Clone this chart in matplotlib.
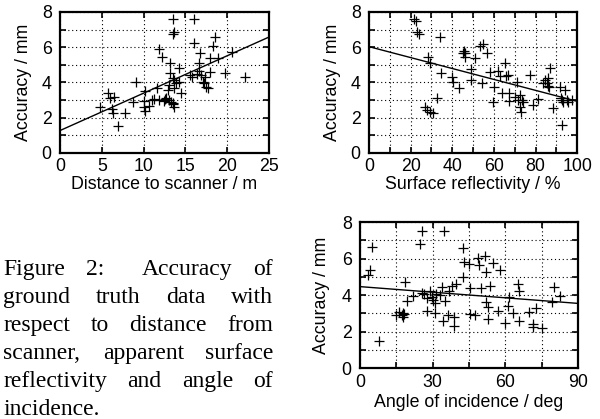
import matplotlib

matplotlib.use("Agg")
import matplotlib.pyplot as plt
import numpy as np
from matplotlib.ticker import MultipleLocator

plt.rcParams.update({"font.family": "Liberation Sans", "font.size": 12.8})

# distance to scanner (m) vs accuracy (mm)
dist = [4.8, 5.8, 6.0, 6.5, 6.2, 6.3, 7.0, 7.8, 8.8, 9.1, 10.0, 10.2, 10.1, 10.2, 10.6,
        11.0, 11.2, 11.6, 11.8, 11.9, 12.2, 12.7, 12.9, 13.0, 13.1, 13.2, 13.2, 13.5,
        13.3, 13.5, 13.5, 13.5, 13.6, 13.5, 13.7, 13.7, 13.9, 14.2, 14.3, 14.5, 13.7,
        15.6, 15.8, 16.1, 16.1, 16.4, 16.6, 16.7, 16.8, 16.9, 17.1, 17.3, 17.5, 17.7,
        17.9, 18.0, 18.3, 18.6, 18.9, 19.8, 20.6, 22.2, 17.4, 12.4, 12.6]
acc_dist = [2.63, 3.42, 3.10, 3.16, 2.48, 2.29, 1.55, 2.25, 2.90, 4.00, 2.95, 3.53, 2.63,
            2.38, 2.67, 3.00, 3.08, 3.67, 3.00, 5.88, 5.43, 3.10, 3.57, 3.86, 3.00, 5.12,
            4.56, 4.23, 2.87, 2.82, 2.76, 6.73, 6.88, 7.58, 4.14, 3.67, 3.95, 4.05, 4.80,
            3.42, 2.63, 4.42, 4.33, 7.58, 6.22, 4.48, 4.63, 5.09, 5.65, 4.42, 4.05, 3.95,
            3.76, 3.67, 4.61, 5.37, 6.07, 6.60, 5.41, 4.56, 5.71, 4.29, 4.30, 2.95, 3.05]

# surface reflectivity (%) vs accuracy (mm)
refl = [21.8, 22.4, 23.2, 24.0, 34.1, 28.2, 29.3, 34.4, 26.9, 27.7, 29.3, 30.6, 32.8,
        39.7, 40.5, 43.4, 45.6, 45.9, 46.1, 45.3, 49.0, 49.0, 50.9, 53.3, 54.6, 54.1,
        56.5, 58.1, 60.0, 59.7, 62.1, 62.9, 63.7, 65.3, 65.6, 66.9, 67.4, 67.4, 70.9,
        70.1, 71.7, 72.5, 72.5, 73.0, 73.4, 74.1, 77.3, 78.9, 81.0, 83.4, 84.5, 85.3,
        85.8, 86.1, 86.6, 86.9, 88.2, 91.7, 92.2, 92.5, 92.8, 94.1, 94.9, 95.7, 97.3,
        93.3]
acc_refl = [7.58, 7.50, 6.88, 6.75, 6.60, 5.43, 5.12, 4.52, 2.63, 2.44, 2.34, 2.25, 3.14,
            4.33, 4.05, 3.70, 5.80, 5.69, 5.46, 5.67, 4.74, 4.14, 5.37, 6.07, 6.16, 3.95,
            5.69, 4.61, 3.76, 2.91, 4.65, 4.39, 3.38, 5.09, 4.37, 4.42, 3.42, 2.97, 4.03,
            3.19, 3.00, 3.29, 2.63, 2.34, 3.00, 2.91, 4.42, 2.72, 3.04, 3.99, 4.14, 3.95,
            4.23, 3.80, 3.72, 4.84, 2.53, 3.76, 3.10, 3.00, 1.59, 3.57, 3.00, 2.91, 3.00,
            2.91]

# angle of incidence (deg) vs accuracy (mm)
angle = [3.4, 4.1, 5.1, 8.0, 14.9, 16.1, 17.2, 17.9, 18.3, 18.6, 19.3, 17.9, 22.0, 24.8,
         25.5, 25.5, 26.4, 27.5, 27.8, 28.9, 29.6, 30.3, 30.9, 30.9, 31.4, 33.0, 33.7,
         34.1, 34.7, 35.1, 36.5, 36.9, 38.1, 38.8, 38.9, 39.6, 42.6, 42.6, 43.0, 45.1,
         45.4, 45.4, 47.5, 48.6, 49.1, 50.2, 51.6, 51.9, 52.0, 52.7, 53.0, 53.9, 55.0,
         57.1, 57.8, 59.8, 61.2, 61.6, 63.3, 65.3, 65.6, 65.8, 69.9, 71.3, 71.5, 72.9,
         75.2, 79.4, 80.1, 82.5]
acc_angle = [5.10, 5.37, 6.65, 1.50, 2.90, 3.05, 2.90, 2.81, 2.94, 4.73, 3.69, 3.00, 3.96,
             6.78, 7.50, 4.09, 4.04, 3.12, 3.82, 4.22, 3.91, 3.73, 3.54, 3.00, 4.04, 4.00,
             4.46, 2.58, 7.50, 3.69, 2.90, 4.22, 4.49, 2.81, 2.32, 4.60, 6.56, 5.00, 5.79,
             5.68, 4.40, 2.94, 2.90, 6.05, 5.64, 4.37, 6.16, 5.28, 3.63, 3.36, 2.67, 4.51,
             5.74, 3.12, 5.37, 2.45, 3.40, 3.90, 2.99, 4.58, 4.22, 2.59, 3.09, 2.39, 2.23,
             3.31, 2.21, 3.63, 4.46, 3.96]

# regression lines (intercept, slope) as drawn in the reference
fit_dist = (1.27, 0.212)
fit_refl = (6.03, -0.031)
fit_angle = (4.46, -0.0102)

caption = ["Figure 2: Accuracy of",
           "ground truth data with",
           "respect to distance from",
           "scanner, apparent surface",
           "reflectivity and angle of",
           "incidence."]


def scatter_panel(ax, x, y, fit, xmax, xmajor, xminor, xlabel):
    ax.plot(x, y, "+", color="black", ms=7.5, mew=0.9)
    xs = np.array([0, xmax])
    ax.plot(xs, fit[0] + fit[1] * xs, color="black", lw=1)
    ax.set_xlim(0, xmax)
    ax.set_ylim(0, 8)
    ax.xaxis.set_major_locator(MultipleLocator(xmajor))
    ax.xaxis.set_minor_locator(MultipleLocator(xminor))
    ax.yaxis.set_major_locator(MultipleLocator(2))
    ax.yaxis.set_minor_locator(MultipleLocator(1))
    ax.grid(which="both", color="black", ls=(0, (1, 2.5)), lw=0.8)
    ax.tick_params(which="both", direction="in", top=True, right=True, width=1.2)
    ax.tick_params(which="major", length=4.5)
    ax.tick_params(which="minor", length=4.5)
    ax.tick_params(axis="x", pad=4)
    ax.tick_params(axis="y", pad=6)
    for s in ax.spines.values():
        s.set_linewidth(1.6)
    ax.set_xlabel(xlabel)
    ax.set_ylabel("Accuracy / mm")
    ax.yaxis.set_label_coords(-0.177, 0.5)
    ax.yaxis.label.set_va("center")


fig = plt.figure(figsize=(6.0, 4.19), dpi=100)
ax1 = fig.add_axes([0.100, 0.635, 0.348, 0.3365])
ax2 = fig.add_axes([0.615, 0.635, 0.347, 0.3365])
ax3 = fig.add_axes([0.600, 0.1217, 0.363, 0.3484])

scatter_panel(ax1, dist, acc_dist, fit_dist, 25, 5, 5, "Distance to scanner / m")
scatter_panel(ax2, refl, acc_refl, fit_refl, 100, 20, 10, "Surface reflectivity / %")
scatter_panel(ax3, angle, acc_angle, fit_angle, 90, 30, 15, "Angle of incidence / deg")
for ax in (ax1, ax2):
    ax.xaxis.set_label_coords(0.5, -0.227)
    ax.xaxis.label.set_va("center")
ax3.xaxis.set_label_coords(0.5, -0.233)
ax3.xaxis.label.set_va("center")

# justified caption, placed word by word
fig.canvas.draw()
r = fig.canvas.get_renderer()
kw = dict(family="Liberation Serif", fontsize=17, va="baseline")
W = fig.bbox.width


def width(s):
    t = fig.text(0, 0, s, **kw)
    w = t.get_window_extent(r).width
    t.remove()
    return w


sp = width("x x") - width("xx")
x0, x1, y0, step = 0.005, 0.455, 1 - 275 / 419, 28 / 419
for i, line in enumerate(caption):
    y = y0 - i * step
    words = line.split()
    if i == len(caption) - 1:
        fig.text(x0, y, line, **kw)
        continue
    ws = [width(w) for w in words]
    wts = [2.0 if w.endswith(":") else 1.25 if w.endswith(",") else 1.0 for w in words[:-1]]
    base = [sp * (1.33 if w.endswith(":") else 1.0) for w in words[:-1]]
    free = (x1 - x0) * W - sum(ws) - sum(base)
    x = x0 * W
    for j, w in enumerate(words):
        fig.text(x / W, y, w, **kw)
        if j < len(words) - 1:
            x += ws[j] + base[j] + free * wts[j] / sum(wts)

fig.savefig("out.png", dpi=100)
